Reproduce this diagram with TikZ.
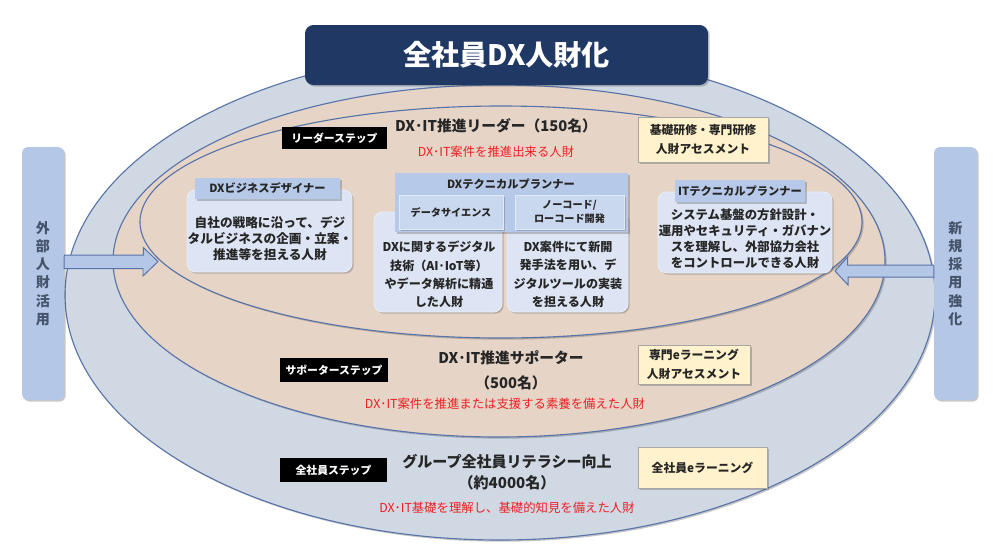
\documentclass[tikz,border=0pt]{standalone}
\usepackage{fontspec}
\setmainfont{Noto Sans CJK JP}
\usetikzlibrary{shadows}
\definecolor{ringblue}{RGB}{88,116,168}
\definecolor{outerfill}{RGB}{208,216,228}
\definecolor{peach}{RGB}{230,212,199}
\definecolor{navy}{RGB}{31,56,100}
\definecolor{barblue}{RGB}{180,199,231}
\definecolor{hdrblue}{RGB}{183,201,232}
\definecolor{subblue}{RGB}{201,216,238}
\definecolor{paleblue}{RGB}{221,229,244}
\definecolor{notefill}{RGB}{255,242,204}
\definecolor{inktext}{RGB}{38,38,38}
\definecolor{bartext}{RGB}{68,84,106}
\definecolor{roletext}{RGB}{236,32,36}
\newcommand{\fsz}[2]{\fontsize{#1}{#2}\selectfont\bfseries}

\begin{document}
\begin{tikzpicture}[x=0.025cm, y=-0.025cm,
    sized/.style 2 args={minimum width=#1*0.025cm, minimum height=#2*0.025cm},
    softshade/.style={drop shadow={shadow xshift=1.2pt, shadow yshift=-1.2pt, opacity=.3, fill=black!70}},
    ring/.style={draw=ringblue, line width=.8pt, softshade},
    box/.style={inner sep=0pt, align=center, text=inktext},
    titlebox/.style={box, fill=navy, rounded corners=6pt, text=white, font=\fsz{20}{24}, softshade},
    sidebar/.style={box, fill=barblue, rounded corners=4pt, text=bartext, font=\fsz{10}{13}, softshade},
    blockarrow/.style={fill=barblue, draw=ringblue, line width=.7pt, line join=miter},
    steptag/.style={box, fill=black, text=white, font=\fsz{7.7}{9}},
    notebox/.style={box, fill=notefill, draw=black!35, line width=.6pt, font=\fsz{8.4}{13}, softshade},
    headtxt/.style={align=center, text=inktext, font=\fsz{10.5}{17.8}},
    roletxt/.style={align=center, text=roletext, font=\fontsize{8.8}{11}\selectfont},
    bodybox/.style={box, fill=paleblue, draw=white!70!barblue, line width=.6pt, rounded corners=6pt, softshade},
    hdrbox/.style={box, fill=hdrblue, font=\fsz{8}{10}, softshade},
    subbox/.style={box, fill=subblue, draw=white!60!barblue, line width=.4pt, font=\fsz{7.2}{10}, softshade},
    bodytxt/.style={align=center, text=inktext, inner sep=0pt},
  ]
  \useasboundingbox (0,0) rectangle (1000,555);

  \fill[white] (0,0) rectangle (1000,555);
  \draw[ring, fill=outerfill] (500,295) ellipse [x radius=435, y radius=245];
  \draw[ring, fill=peach] (499,261) ellipse [x radius=386, y radius=176];
  \draw[ring, fill=peach] (501,222) ellipse [x radius=361, y radius=116];

  \node[titlebox, sized={403}{60}] (title) at (506.5,55) {全社員DX人財化};

  \node[sidebar, sized={42}{253}] (lbar) at (43,273.5) {外\\部\\人\\財\\活\\用};
  \node[sidebar, sized={43}{253}] (rbar) at (955.5,273.5) {新\\規\\採\\用\\強\\化};

  \coordinate (ltip) at (158,261.5);
  \coordinate (rtip) at (835,271);
  \draw[blockarrow] (lbar.east |- ltip) ++(0,-6.5) -- ++(79,0) -- ++(0,-7.5) -- (ltip)
    -- ++(-15,14.5) -- ++(0,-7.5) -- ++(-79,0) -- cycle;
  \draw[blockarrow] (rbar.west |- rtip) ++(0,-6) -- ++(-86,0) -- ++(0,-8) -- (rtip)
    -- ++(13,14) -- ++(0,-8) -- ++(86,0) -- cycle;

  % leader step
  \node[steptag, sized={105}{22}] (leadtag) at (334.5,138) {リーダーステップ};
  \node[headtxt] (leadname) at (496,126) {DX･IT推進リーダー（150名）};
  \node[roletxt] (leadrole) at (496,152) {DX･IT案件を推進出来る人財};
  \node[notebox, sized={130}{45}] (leadnote) at (703,139.5) {基礎研修・専門研修\\人財アセスメント};

  \node[bodybox, sized={165}{82}] (bizbody) at (269.5,231) {};
  \node[hdrbox, sized={145}{21}] (bizhdr) at (267.5,188.5) {DXビジネスデザイナー};
  \node[bodytxt, font=\fsz{9}{11.4}] (biztxt) at (270,239) {自社の戦略に沿って、デジ\\タルビジネスの企画・立案・\\推進等を担える人財};

  \node[bodybox, sized={128}{100}] (dsbody) at (438,262) {};
  \node[bodybox, sized={121}{100}] (ncbody) at (567.5,262) {};
  \node[hdrbox, sized={233}{59}] (techhdr) at (511.5,202.5) {};
  \node[box, font=\fsz{8}{10}] (techtitle) at (511,184) {DXテクニカルプランナー};
  \node[subbox, sized={104}{34}] (dssub) at (451,212) {データサイエンス};
  \node[subbox, sized={109}{34}] (ncsub) at (569.5,212) {ノーコード/\\ローコード開発};
  \node[bodytxt, font=\fsz{8.6}{13}] (dstxt) at (439,274.5) {DXに関するデジタル\\技術（AI･IoT等）\\やデータ解析に精通\\した人財};
  \node[bodytxt, font=\fsz{8.6}{13}] (nctxt) at (568,274.5) {DX案件にて新開\\発手法を用い、デ\\ジタルツールの実装\\を担える人財};

  \node[bodybox, sized={174}{81}] (itbody) at (745,232.5) {};
  \node[hdrbox, sized={130}{22}] (ithdr) at (740,191) {ITテクニカルプランナー};
  \node[bodytxt, font=\fsz{8.8}{11.4}] (ittxt) at (745,239) {システム基盤の方針設計・\\運用やセキュリティ・ガバナン\\スを理解し、外部協力会社\\をコントロールできる人財};

  % supporter step
  \node[steptag, sized={108}{24}] (suptag) at (334,370) {サポーターステップ};
  \node[headtxt] (supname) at (511,370.5) {DX･IT推進サポーター\\（500名）};
  \node[roletxt] (suprole) at (505,404) {DX･IT案件を推進または支援する素養を備えた人財};
  \node[notebox, sized={112}{39}] (supnote) at (694,364.5) {専門eラーニング\\人財アセスメント};

  % all staff step
  \node[steptag, sized={107}{24}] (alltag) at (333.5,470) {全社員ステップ};
  \node[headtxt, font=\fsz{10.7}{15}] (allname) at (507,472.5) {グループ全社員リテラシー向上\\（約4000名）};
  \node[roletxt] (allrole) at (507,508) {DX･IT基礎を理解し、基礎的知見を備えた人財};
  \node[notebox, sized={129}{41}] (allnote) at (702.5,467.5) {全社員eラーニング};
\end{tikzpicture}
\end{document}
